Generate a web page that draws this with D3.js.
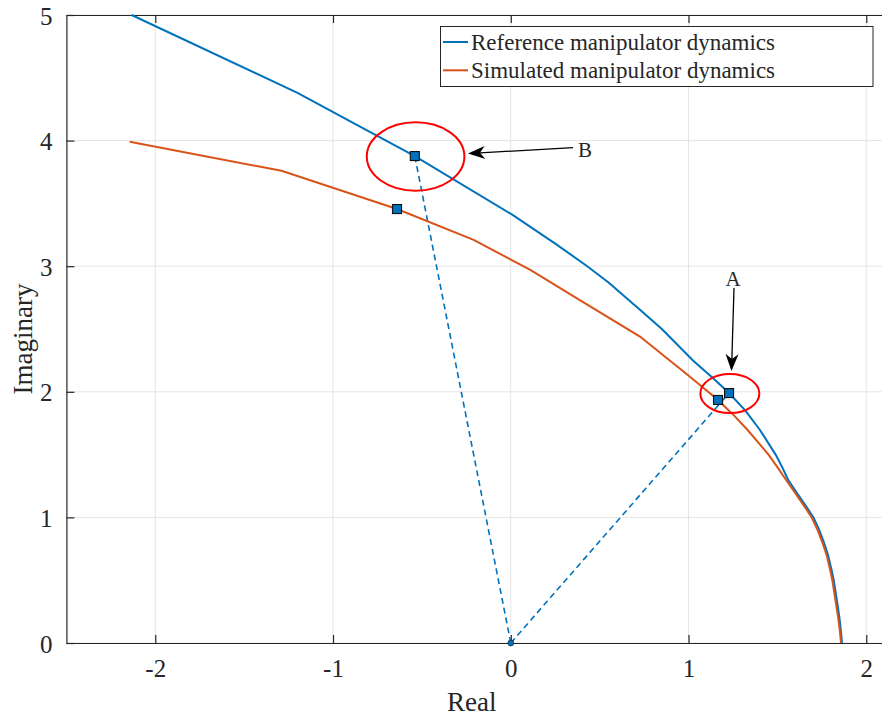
<!DOCTYPE html>
<html>
<head>
<meta charset="utf-8">
<script src="https://cdn.jsdelivr.net/npm/d3@7"></script>
<style>
  html, body { margin: 0; padding: 0; background: #fff; }
  svg { display: block; }
  text { font-family: "Liberation Serif", "DejaVu Serif", serif; fill: #262626; }
</style>
</head>
<body>
<svg id="chart" width="882" height="719"></svg>
<script>
// Root-locus style branches: reference vs simulated manipulator dynamics
const refReal = [-2.133, -1.20, -0.54, 0.008, 0.25, 0.43, 0.55, 0.73, 0.85, 1.025, 1.137, 1.228, 1.32, 1.40, 1.49, 1.527, 1.56, 1.607, 1.656, 1.703, 1.735, 1.762, 1.785, 1.805, 1.817, 1.828, 1.839, 1.849, 1.857, 1.863];
const refImag = [5.00, 4.38, 3.877, 3.41, 3.18, 3.00, 2.87, 2.65, 2.50, 2.25, 2.11, 1.99, 1.85, 1.70, 1.50, 1.40, 1.30, 1.20, 1.10, 1.00, 0.90, 0.80, 0.70, 0.58, 0.50, 0.40, 0.30, 0.20, 0.10, 0.0];

const simReal = [-2.144, -1.29, -0.64, -0.209, 0.11, 0.40, 0.727, 1.008, 1.166, 1.25, 1.33, 1.45, 1.50, 1.548, 1.597, 1.646, 1.693, 1.726, 1.753, 1.777, 1.797, 1.809, 1.82, 1.831, 1.842, 1.851, 1.858];
const simImag = [3.99, 3.76, 3.455, 3.21, 2.97, 2.72, 2.44, 2.12, 1.935, 1.82, 1.70, 1.50, 1.40, 1.30, 1.20, 1.10, 1.00, 0.90, 0.80, 0.70, 0.58, 0.50, 0.40, 0.30, 0.20, 0.10, 0.0];

// Highlighted poles (A and B) on each branch
const refMarkReal = [1.228, -0.54];
const refMarkImag = [1.99, 3.877];
const simMarkReal = [1.166, -0.64];
const simMarkImag = [1.935, 3.455];
const markLabels = ["A", "B"];

const xTicks = [-2, -1, 0, 1, 2];
const yTicks = [0, 1, 2, 3, 4, 5];
const seriesNames = ["Reference manipulator dynamics", "Simulated manipulator dynamics"];
const colors = ["#0072BD", "#D95319"];

const svg = d3.select("#chart");
const plotLeft = 66.4, plotTop = 15, plotBottom = 643;
const x = d3.scaleLinear().domain([-2.5, 2.1]).range([plotLeft, plotLeft + 4.6 * 177.75]);
const y = d3.scaleLinear().domain([0, 5]).range([plotBottom, plotTop]);
const plotRight = x.range()[1];
const axisColor = "#262626";

// grid
const grid = svg.append("g");
grid.selectAll(".gx").data(xTicks).join("line")
  .attr("x1", d => x(d)).attr("x2", d => x(d)).attr("y1", plotTop).attr("y2", plotBottom)
  .attr("stroke", "#e5e5e5").attr("stroke-width", 1);
grid.selectAll(".gy").data(yTicks).join("line")
  .attr("x1", plotLeft).attr("x2", plotRight).attr("y1", d => y(d)).attr("y2", d => y(d))
  .attr("stroke", "#e5e5e5").attr("stroke-width", 1);

// axes (inward ticks, box)
const xAxisB = d3.axisBottom(x).tickValues(xTicks).tickSizeInner(-8).tickSizeOuter(0).tickPadding(16)
  .tickFormat(d3.format("d"));
const xAxisT = d3.axisTop(x).tickValues(xTicks).tickSizeInner(-8).tickSizeOuter(0).tickFormat("");
const yAxisL = d3.axisLeft(y).tickValues(yTicks).tickSizeInner(-8).tickSizeOuter(0).tickPadding(14)
  .tickFormat(d3.format("d"));

function styleAxis(g) {
  g.attr("font-family", '"Liberation Serif", serif');
  g.select(".domain").attr("stroke", axisColor).attr("stroke-width", 1.2);
  g.selectAll(".tick line").attr("stroke", axisColor).attr("stroke-width", 1.2);
  g.selectAll(".tick text").attr("fill", axisColor).style("font-size", "25px");
}
svg.append("g").attr("transform", `translate(0,${plotBottom})`).call(xAxisB).call(styleAxis)
  .selectAll(".tick text").text(d => d < 0 ? "-" + Math.abs(d) : d);
svg.append("g").attr("transform", `translate(0,${plotTop})`).call(xAxisT).call(styleAxis);
svg.append("g").attr("transform", `translate(${plotLeft},0)`).call(yAxisL).call(styleAxis)
  .selectAll(".tick text").attr("dy", "0.36em");

// axis labels
svg.append("text").attr("x", x(-0.22)).attr("y", 711).attr("text-anchor", "middle")
  .style("font-size", "27px").text("Real");
svg.append("text").attr("transform", `translate(32,${y(2.42)}) rotate(-90)`).attr("text-anchor", "middle")
  .style("font-size", "27px").text("Imaginary");

// dashed rays from origin to reference poles
svg.append("g").selectAll("line").data(refMarkReal).join("line")
  .attr("x1", x(0)).attr("y1", y(0))
  .attr("x2", (d) => x(d)).attr("y2", (d, i) => y(refMarkImag[i]))
  .attr("stroke", colors[0]).attr("stroke-width", 1.6).attr("stroke-dasharray", "6,4");
svg.append("circle").attr("cx", x(0)).attr("cy", y(0)).attr("r", 3)
  .attr("fill", colors[0]).attr("stroke", "#1a1a1a").attr("stroke-width", 0.6);

// branches
const line = d3.line().x(d => x(d[0])).y(d => y(d[1]));
const refPts = refReal.map((v, i) => [v, refImag[i]]);
const simPts = simReal.map((v, i) => [v, simImag[i]]);
svg.append("path").datum(refPts).attr("d", line).attr("fill", "none")
  .attr("stroke", colors[0]).attr("stroke-width", 2);
svg.append("path").datum(simPts).attr("d", line).attr("fill", "none")
  .attr("stroke", colors[1]).attr("stroke-width", 2);

// square markers
function squares(re, im) {
  svg.append("g").selectAll("rect").data(re).join("rect")
    .attr("x", d => x(d) - 4.5).attr("y", (d, i) => y(im[i]) - 4.5)
    .attr("width", 9).attr("height", 9)
    .attr("fill", colors[0]).attr("stroke", "#111").attr("stroke-width", 1.1);
}
squares(simMarkReal, simMarkImag);
squares(refMarkReal, refMarkImag);

// red ellipses around highlighted poles
const ellR = [[29.5, 19.5], [48.8, 34.2]];
svg.append("g").selectAll("ellipse").data(refMarkReal).join("ellipse")
  .attr("cx", (d) => x(d) + 0.8).attr("cy", (d, i) => y(refMarkImag[i]) + 0.5)
  .attr("rx", (d, i) => ellR[i][0]).attr("ry", (d, i) => ellR[i][1])
  .attr("fill", "none").attr("stroke", "#ff0000").attr("stroke-width", 2);

// annotation arrows
function arrow(x1, y1, x2, y2) {
  const a = Math.atan2(y2 - y1, x2 - x1);
  const L = 17, W = 6.5, back = 5;
  const ux = Math.cos(a), uy = Math.sin(a), px = -uy, py = ux;
  const bx = x2 - ux * L, by = y2 - uy * L;
  const ix = x2 - ux * (L - back), iy = y2 - uy * (L - back);
  svg.append("line").attr("x1", x1).attr("y1", y1).attr("x2", ix).attr("y2", iy)
    .attr("stroke", "#000").attr("stroke-width", 1.3);
  svg.append("path")
    .attr("d", `M${x2},${y2} L${bx + px * W},${by + py * W} L${ix},${iy} L${bx - px * W},${by - py * W} Z`)
    .attr("fill", "#000");
}
arrow(734, 288, 731.5, 371);
arrow(573, 147.7, 468, 153.5);
svg.append("text").attr("x", 733).attr("y", 286).attr("text-anchor", "middle")
  .style("font-size", "21px").attr("fill", "#000").text(markLabels[0]);
svg.append("text").attr("x", 585).attr("y", 157).attr("text-anchor", "middle")
  .style("font-size", "21px").attr("fill", "#000").text(markLabels[1]);

// legend
const lg = svg.append("g");
lg.append("rect").attr("x", 440.5).attr("y", 26.5).attr("width", 432.5).attr("height", 60)
  .attr("fill", "#fff").attr("stroke", axisColor).attr("stroke-width", 1);
seriesNames.forEach((name, i) => {
  const cy = 42 + i * 28.3;
  lg.append("line").attr("x1", 443).attr("x2", 468).attr("y1", cy).attr("y2", cy)
    .attr("stroke", colors[i]).attr("stroke-width", 2);
  lg.append("text").attr("x", 471).attr("y", cy + 8).style("font-size", "23px")
    .attr("fill", "#000").text(name);
});
</script>
</body>
</html>
